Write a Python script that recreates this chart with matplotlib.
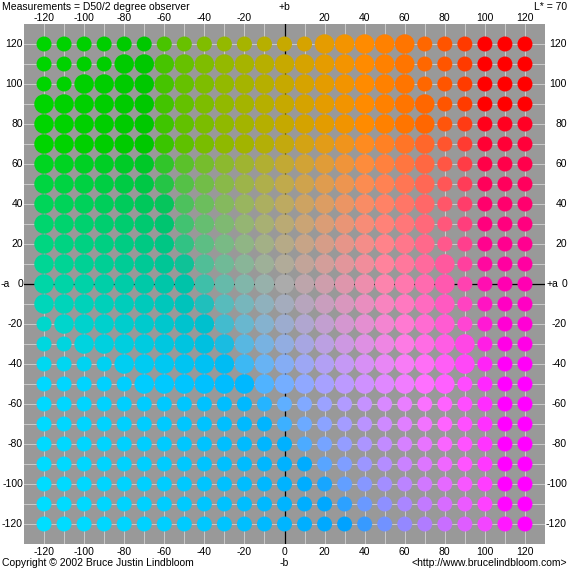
import numpy as np
import matplotlib
matplotlib.use("Agg")
import matplotlib.pyplot as plt
import matplotlib.transforms as mtransforms

L_STAR = 70
a_vals = list(range(-120, 130, 10))
b_vals = list(range(120, -130, -10))   # top row first
tick_vals = list(range(-120, 140, 20))

# 1 = large dot, 0 = small dot, rows from b=+120 down to b=-120, cols a=-120..120
big_rows = [
    "0000000000000011111000000",
    "0000111111111111111000000",
    "0011111111111111111000000",
    "1111111111111111111100000",
    "1111111111111111111100000",
    "1111111111111111111100000",
    "1111111111111111111100000",
    "1111111111111111111100000",
    "1111111111111111111100000",
    "1111111111111111111100000",
    "1111111111111111111100000",
    "1111111111111111111110000",
    "1111111111111111111110000",
    "1111111111111111111110000",
    "0111111111111111111110000",
    "0011111111111111111111000",
    "0000111111111111111111000",
    "0000011111111111111110000",
    "0000000000000000000000000",
    "0000000000000000000000000",
    "0000000000000000000000000",
    "0000000000000000000000000",
    "0000000000000000000000000",
    "0000000000000000000000000",
    "0000000000000000000000000",
]

DPI = 100
SMALL_PX = 15.0
BIG_PX = 19.5

plt.rcParams["font.family"] = ["Liberation Sans", "DejaVu Sans"]


def lab_to_srgb(L, a, b):
    # Lab (D50) -> XYZ (D50) -> sRGB via Bradford adapted matrix
    fy = (L + 16.0) / 116.0
    fx = fy + a / 500.0
    fz = fy - b / 200.0
    d = 6.0 / 29.0

    def finv(t):
        return np.where(t > d, t ** 3, 3 * d * d * (t - 4.0 / 29.0))

    X = 0.9642 * finv(fx)
    Y = 1.0 * finv(fy)
    Z = 0.8249 * finv(fz)
    M = np.array([[3.1338561, -1.6168667, -0.4906146],
                  [-0.9787684, 1.9161415, 0.0334540],
                  [0.0719453, -0.2289914, 1.4052427]])
    rgb = M @ np.array([X, Y, Z])
    rgb = np.clip(rgb, 0, 1)
    rgb = np.where(rgb <= 0.0031308, 12.92 * rgb, 1.055 * rgb ** (1 / 2.4) - 0.055)
    return np.clip(rgb, 0, 1)


xs, ys, cols, sizes = [], [], [], []
for i, b in enumerate(b_vals):
    for j, a in enumerate(a_vals):
        xs.append(a)
        ys.append(b)
        cols.append(lab_to_srgb(L_STAR, a, b))
        d = BIG_PX if big_rows[i][j] == "1" else SMALL_PX
        sizes.append((d * 72.0 / DPI) ** 2)

W = H = 569
fig = plt.figure(figsize=(W / DPI, H / DPI), dpi=DPI, facecolor="white")
ax = fig.add_axes([24 / W, (H - 544) / H, 521 / W, 520 / H])
ax.set_facecolor("#999999")
ax.set_xlim(-130, 130)
ax.set_ylim(-130, 130)
for s in ax.spines.values():
    s.set_visible(False)
ax.set_xticks([])
ax.set_yticks([])

# light grid every 10 units
for v in range(-120, 130, 10):
    if v == 0:
        continue
    ax.axvline(v, color="#c8c8c8", lw=0.75, zorder=0)
    ax.axhline(v, color="#c8c8c8", lw=0.75, zorder=0)
ax.axvline(0, color="black", lw=0.9, zorder=1)
ax.axhline(0, color="black", lw=0.9, zorder=1)

ax.scatter(xs, ys, s=sizes, c=cols, linewidths=0, zorder=2)

fs = 7.5
# tick labels placed by hand: x in data units, y in figure pixels
tx = mtransforms.blended_transform_factory(ax.transData, fig.transFigure)
ty = mtransforms.blended_transform_factory(fig.transFigure, ax.transData)
for v in tick_vals:
    if v != 0:
        fig.text(v, 1 - 18 / H, str(v), transform=tx, fontsize=fs,
                 ha="center", va="center")
    fig.text(v, 1 - 552 / H, str(v), transform=tx, fontsize=fs,
             ha="center", va="center")
    fig.text(23 / W, v, str(v), transform=ty, fontsize=fs, ha="right", va="center")
    fig.text(567 / W, v, str(v), transform=ty, fontsize=fs, ha="right", va="center")

# axis direction markers
fig.text(1 / W, 0, "-a", transform=ty, fontsize=fs, ha="left", va="center")
fig.text(547 / W, 0, "+a", transform=ty, fontsize=fs, ha="left", va="center")
fig.text(0, 1 - 7 / H, "+b", transform=tx, fontsize=fs, ha="center", va="center")
fig.text(0, 1 - 563 / H, "-b", transform=tx, fontsize=fs, ha="center", va="center")

fig.text(2 / W, 1 - 7 / H, "Measurements = D50/2 degree observer",
         fontsize=fs, ha="left", va="center")
fig.text(567 / W, 1 - 7 / H, "L* = 70", fontsize=fs, ha="right", va="center")
fig.text(2 / W, 1 - 563 / H, "Copyright \u00a9 2002 Bruce Justin Lindbloom",
         fontsize=fs, ha="left", va="center")
fig.text(567 / W, 1 - 563 / H, "<http://www.brucelindbloom.com>",
         fontsize=fs, ha="right", va="center")

fig.savefig("out.png", dpi=DPI, facecolor="white")
